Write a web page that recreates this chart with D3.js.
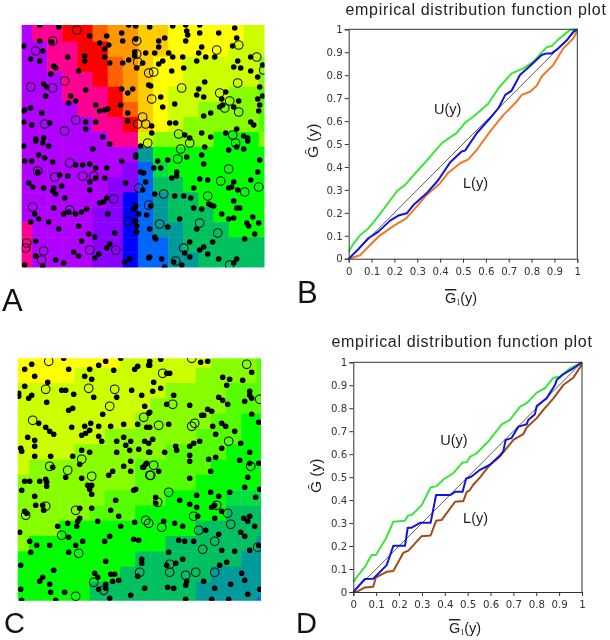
<!DOCTYPE html>
<html>
<head>
<meta charset="utf-8">
<script src="https://cdn.jsdelivr.net/npm/d3@7"></script>
<style>
  html, body { margin: 0; padding: 0; background: #fff; }
  svg { display: block; filter: blur(0.35px); }
  text { font-family: "Liberation Sans", Arial, sans-serif; fill: #222; }
  .axis text { font-family: "DejaVu Sans", sans-serif; font-size: 10.2px; fill: #333; }
</style>
</head>
<body>
<div id="chart"></div>
<script>
// colour levels used by the two grid maps
const levelKeys = ["p", "P", "v", "B", "b", "t", "s", "h", "G", "n", "m", "l", "y", "g", "a", "o", "r", "q"];
const levelColors = ["#b000ff", "#8a00ff", "#6000ff", "#0000ff", "#0066ff", "#009a9a", "#00c060", "#00e040",
    "#00ff00", "#55ff00", "#88ff00", "#ccff00", "#ffff00", "#ffcc00", "#ff9900", "#ff6000", "#ff0000", "#ff0090"];

const gridA = [
    "pqqrroaaggyyyyyll",
    "pqqrroaaggyyyyyll",
    "ppqqrraaggyyyylll",
    "ppqqrroagyylllllm",
    "pppqqroagyylllllm",
    "pppqqqragyllllmmn",
    "ppppqqrogyllmmmmn",
    "pppppqqrgylmmmmmn",
    "ppppppqqlmmmmGGGm",
    "pppppppptGGGGGGGG",
    "pppppppPbhGGGGGGG",
    "ppppppPPbssGGGGGG",
    "ppppppPBbtssGGGGG",
    "pppppPPBbtsssGGGG",
    "qppppPPBbttsssGGG",
    "qppppPPBbbtssssss",
    "qppppPPBbbttsssss"
];

const gridC = [
    "yyyyyyyllllllmmmn",
    "yyyyllllllllmmmmn",
    "llllllllllmmmmnnn",
    "lllllllllmmmmmnnn",
    "llllllllmmmmmnnGG",
    "llllllmmmmmmnnnGG",
    "llllmmmmmmnnnnGGG",
    "lmmmmmmmnnnnnGGGG",
    "mmmmmmmmnnnnGGGGG",
    "mmmmmmnnnnGGGGhhh",
    "mmmmmnnnGGGGGGsss",
    "mmmGGGGGGGGGsssss",
    "mGGGGGGGGGsssssst",
    "GGGGGGGGssssssstt",
    "GGGGGGGsssssstttt",
    "GGGGGsssssssttttt",
    "GGGGGsssssssttttb"
];

const dotsA = [[18,0],[37,2],[2,21],[18,16],[21,26],[30,17],[68,11],[85,11],[100,8],[107,0],[114,1],[78,18],[87,20],[83,24],[101,16],
    [46,32],[9,34],[18,36],[63,31],[63,36],[83,32],[88,38],[101,38],[107,35],[114,14],[113,27],[113,31],[124,28],[121,38],[115,43],
    [32,41],[34,43],[29,49],[57,46],[22,59],[25,62],[64,65],[100,64],[111,64],[106,68],[24,71],[49,71],[54,76],[47,78],[74,80],
    [78,86],[83,85],[86,84],[99,80],[106,88],[9,83],[3,85],[2,86],[20,88],[2,97],[10,100],[28,98],[64,97],[74,97],[106,96],[64,104],
    [14,114],[22,113],[81,112],[127,60],
    [128,2],[151,1],[164,0],[178,0],[165,6],[166,10],[178,8],[197,8],[213,3],[143,13],[137,16],[137,22],[164,16],[180,22],[215,13],
    [211,21],[177,28],[147,28],[151,32],[133,28],[161,32],[184,32],[193,32],[175,36],[141,36],[137,39],[150,46],[162,43],[212,42],
    [216,36],[219,43],[229,32],[229,46],[236,52],[241,40],[183,57],[129,61],[177,64],[175,70],[182,72],[204,67],[200,74],[238,62],
    [236,74],[241,71],[139,72],[141,82],[153,79],[238,80],[237,86],[217,76],[212,82],[198,82],[201,80],[189,88],[182,91],[229,97],
    [232,100],[148,98],[154,98],[130,101],[130,108],[163,110],[168,113],[180,108],[189,112],[204,108],[215,104],[222,111],[226,113],
    [2,121],[14,116],[21,118],[27,121],[88,119],[71,124],[119,121],[17,130],[23,133],[3,136],[10,136],[31,137],[54,140],[61,140],
    [68,139],[74,143],[85,143],[100,136],[114,130],[114,132],[16,147],[38,150],[46,151],[74,153],[83,153],[68,157],[119,147],[122,148],
    [124,157],[104,158],[7,158],[11,162],[22,163],[40,161],[32,163],[31,166],[34,169],[68,165],[121,165],[43,173],[78,178],[82,177],
    [85,173],[32,183],[114,181],[112,184],[13,189],[42,189],[47,187],[54,189],[60,187],[65,184],[86,189],[117,189],[125,190],[9,197],
    [17,194],[27,197],[37,204],[57,201],[114,196],[115,201],[115,207],[93,208],[67,209],[73,212],[14,216],[60,216],[88,219],[85,223],
    [52,227],[57,231],[77,229],[73,233],[14,231],[34,235],[42,238],[108,234],[103,237],[127,233],[3,240],[21,241],
    [183,122],[207,125],[215,122],[222,124],[226,116],[180,130],[165,132],[146,135],[136,136],[238,135],[182,139],[132,143],[139,143],
    [236,147],[155,147],[155,151],[150,153],[178,154],[186,155],[212,157],[229,155],[172,163],[210,162],[207,163],[216,165],[133,169],
    [153,171],[162,171],[169,173],[212,176],[129,181],[172,183],[180,184],[187,179],[189,180],[192,181],[215,183],[218,183],[200,189],
    [231,192],[207,194],[212,193],[158,194],[225,198],[227,201],[237,198],[146,202],[128,204],[175,204],[233,209],[223,214],[133,212],
    [134,214],[191,217],[168,217],[182,222],[178,225],[163,228],[168,232],[186,229],[197,234],[215,234],[128,232],[140,234],[152,237],
    [160,240],[212,238],[143,242]];

const ringsA = [[55,5],[31,16],[14,26],[115,16],[115,29],[116,37],[43,56],[9,62],[31,63],[127,48],[121,92],[116,99],[124,99],[54,95],
    [23,99],[43,106],[195,25],[217,20],[235,32],[242,45],[132,47],[216,58],[160,63],[130,74],[198,68],[208,76],[203,83],[217,87],
    [157,109],[211,110],[16,146],[48,138],[33,152],[61,151],[72,151],[117,163],[92,174],[127,180],[11,182],[48,185],[106,196],[5,218],
    [4,223],[22,226],[20,235],[68,225],[94,225],[126,118],[168,118],[159,124],[156,134],[214,118],[199,156],[207,144],[142,169],
    [186,171],[223,167],[237,162],[178,198],[196,208],[138,199],[162,223],[154,236],[208,240]];

const dotsC = [[7,11],[14,6],[17,18],[51,11],[46,0],[72,11],[81,7],[88,3],[96,12],[103,0],[67,18],[74,21],[117,11],[120,8],[131,7],
    [30,24],[7,28],[1,35],[1,38],[44,32],[48,32],[14,37],[11,40],[56,36],[76,39],[99,39],[114,32],[124,37],[29,44],[127,48],[51,52],
    [55,50],[85,56],[131,55],[21,65],[28,69],[32,73],[36,76],[54,69],[67,68],[73,65],[81,68],[93,68],[106,66],[120,66],[129,69],[72,72],
    [68,75],[64,77],[10,79],[17,82],[17,88],[81,78],[84,83],[106,79],[99,83],[113,83],[108,87],[112,92],[121,91],[127,83],[131,85],[3,90],
    [4,93],[99,94],[131,94],[64,92],[72,94],[17,98],[33,98],[55,98],[62,106],[113,103],[106,108],[129,105],[126,109],[35,109],[113,113],
    [95,113],[91,117],[7,123],[12,123],[22,123],[28,121],[29,124],[48,119],[64,120],[74,127],
    [143,1],[132,3],[132,7],[183,4],[190,3],[152,15],[149,15],[234,14],[205,19],[212,21],[225,22],[209,27],[136,24],[143,30],[135,33],
    [156,37],[232,33],[232,37],[234,40],[227,43],[201,39],[205,42],[210,46],[149,46],[172,47],[132,54],[190,51],[194,53],[234,56],[184,57],
    [186,57],[241,64],[151,66],[132,69],[195,68],[204,65],[208,68],[217,73],[198,76],[135,81],[182,83],[176,85],[172,88],[223,85],[204,90],
    [158,88],[159,92],[147,94],[132,94],[232,94],[172,97],[172,103],[198,99],[191,101],[222,102],[232,105],[241,105],[128,106],[125,109],
    [141,113],[193,113],[172,120],[230,119],
    [29,128],[4,132],[17,138],[70,127],[72,131],[74,136],[116,132],[118,131],[98,142],[18,147],[25,147],[26,152],[62,150],[74,150],[93,152],
    [101,158],[7,153],[9,155],[62,160],[60,163],[59,168],[50,165],[40,168],[80,163],[103,168],[117,164],[2,174],[51,179],[92,178],[87,183],
    [116,181],[121,182],[65,183],[58,187],[12,183],[19,187],[32,187],[13,194],[51,194],[88,203],[124,201],[124,205],[3,207],[36,212],[77,215],
    [80,219],[93,216],[97,216],[25,219],[22,223],[32,226],[95,223],[101,222],[120,218],[88,226],[81,231],[88,230],[3,231],[127,230],[33,234],
    [47,234],[113,237],[92,240],[4,242],[38,242],
    [227,129],[212,134],[193,134],[201,138],[179,137],[138,139],[138,145],[162,142],[172,146],[179,149],[238,139],[242,131],[197,147],[194,149],
    [204,153],[180,158],[197,160],[232,158],[226,160],[230,163],[146,163],[157,165],[165,168],[237,168],[188,172],[201,176],[223,174],[227,178],
    [161,182],[167,183],[176,183],[151,194],[204,192],[217,193],[232,192],[241,187],[165,201],[158,205],[149,207],[209,204],[202,207],[224,215],
    [169,223],[168,227],[227,222],[186,223],[213,226],[150,229],[156,230],[242,231],[197,230],[168,241],[194,241],[211,241],[230,236]];

const ringsC = [[31,3],[28,31],[71,30],[97,31],[92,48],[15,62],[126,59],[64,101],[32,108],[50,112],[74,118],[132,117],
    [174,0],[145,15],[229,6],[155,46],[242,41],[141,67],[174,68],[177,65],[211,83],[233,108],[136,107],[133,117],
    [28,148],[8,157],[58,152],[44,177],[61,195],[76,224],[86,232],[58,238],[122,214],[128,162],[131,165],
    [151,134],[140,144],[199,147],[176,158],[210,155],[213,166],[144,169],[181,172],[197,183],[185,191],[240,189],[152,206],[152,214],
    [168,217],[178,214],[197,214]];

const ticks = [0, 0.1, 0.2, 0.3, 0.4, 0.5, 0.6, 0.7, 0.8, 0.9, 1];
const diagonal = [[0, 0], [1, 1]];

const upperB = [[0,.03],[.02,.064],[.05,.103],[.086,.132],[.122,.176],[.166,.234],[.213,.297],[.246,.321],[.297,.379],[.341,.427],[.382,.474],
    [.407,.503],[.443,.529],[.472,.547],[.509,.593],[.545,.619],[.611,.677],[.655,.743],[.713,.808],[.764,.83],[.808,.859],[.866,.922],
    [.888,.927],[.917,.956],[.968,.997],[1,1]];
const lowerB = [[0,0],[.05,.015],[.086,.052],[.13,.096],[.195,.142],[.251,.176],[.297,.227],[.341,.278],[.399,.328],[.436,.375],[.487,.416],
    [.523,.433],[.56,.474],[.618,.554],[.676,.626],[.735,.685],[.757,.714],[.793,.728],[.822,.753],[.844,.794],[.895,.844],[.939,.917],
    [.968,.946],[.983,.961],[1,.994]];
const middleB = [[0,0],[.042,.041],[.086,.089],[.13,.118],[.181,.166],[.217,.188],[.254,.198],[.283,.234],[.341,.285],[.392,.343],[.443,.419],
    [.494,.467],[.509,.471],[.56,.547],[.618,.612],[.655,.656],[.685,.714],[.713,.733],[.749,.801],[.793,.84],[.844,.888],[.866,.895],
    [.888,.895],[.917,.917],[.953,.951],[.983,.99],[1,1]];

const upperD = [[0,.045],[.051,.11],[.08,.161],[.099,.161],[.143,.233],[.175,.306],[.226,.31],[.238,.332],[.255,.335],[.299,.378],[.338,.455],
    [.364,.461],[.394,.49],[.437,.517],[.478,.564],[.496,.565],[.51,.588],[.539,.604],[.59,.655],[.649,.73],[.685,.749],[.729,.807],
    [.758,.822],[.802,.868],[.838,.887],[.875,.933],[.904,.938],[.948,.974],[1,1]];
const lowerD = [[0,0],[.015,.001],[.051,.02],[.087,.023],[.099,.064],[.146,.088],[.175,.091],[.219,.171],[.241,.18],[.299,.243],[.338,.246],
    [.362,.31],[.386,.313],[.445,.393],[.481,.396],[.496,.436],[.507,.441],[.525,.467],[.554,.499],[.598,.554],[.641,.59],[.671,.626],
    [.7,.662],[.743,.687],[.758,.716],[.802,.757],[.831,.793],[.875,.843],[.918,.901],[.962,.933],[1,.991]];
const middleD = [[0,0],[.051,.057],[.087,.058],[.146,.117],[.175,.201],[.226,.201],[.238,.28],[.255,.28],[.292,.301],[.338,.301],[.362,.422],
    [.423,.422],[.445,.436],[.478,.436],[.493,.493],[.517,.503],[.554,.532],[.598,.554],[.641,.594],[.656,.612],[.666,.662],[.692,.67],
    [.722,.72],[.758,.73],[.765,.749],[.794,.774],[.802,.81],[.845,.843],[.882,.901],[.889,.923],[.918,.948],[.962,.974],[1,1]];

const svg = d3.select("#chart").append("svg")
    .attr("width", 610)
    .attr("height", 640);

const level = d3.scaleOrdinal().domain(levelKeys).range(levelColors);

function drawMap(id, grid, dots, rings, box, cellBox) {
    svg.append("clipPath").attr("id", id)
        .append("rect")
        .attr("x", box.left).attr("y", box.top)
        .attr("width", box.right - box.left).attr("height", box.bottom - box.top);

    const g = svg.append("g").attr("clip-path", "url(#" + id + ")");

    const gx = d3.scaleLinear().domain([0, grid[0].length]).range([cellBox.left, cellBox.right]);
    const gy = d3.scaleLinear().domain([0, grid.length]).range([cellBox.top, cellBox.bottom]);

    grid.forEach(function (row, r) {
        g.selectAll(".row" + r)
            .data(row.split(""))
            .enter()
            .append("rect")
            .attr("x", (d, c) => gx(c))
            .attr("y", gy(r))
            .attr("width", gx(1) - gx(0) + 0.5)
            .attr("height", gy(1) - gy(0) + 0.5)
            .attr("fill", d => level(d));
    });

    const x = d3.scaleLinear().domain([0, 243]).range([box.left, box.left + 243]);
    const y = d3.scaleLinear().domain([0, 242]).range([box.top, box.top + 242]);

    g.selectAll(".dot")
        .data(dots)
        .enter()
        .append("circle")
        .attr("cx", d => x(d[0]))
        .attr("cy", d => y(d[1]))
        .attr("r", 2.8)
        .attr("fill", "#000");

    g.selectAll(".ring")
        .data(rings)
        .enter()
        .append("circle")
        .attr("cx", d => x(d[0]))
        .attr("cy", d => y(d[1]))
        .attr("r", 4.3)
        .attr("fill", "none")
        .attr("stroke", "#111")
        .attr("stroke-width", 1.1);
}

function drawPlot(box, series, titleX, titleY, notes, xLabel, yLabel) {
    const x = d3.scaleLinear().domain([0, 1]).range([box.left, box.right]);
    const y = d3.scaleLinear().domain([0, 1]).range([box.bottom, box.top]);
    const line = d3.line().x(d => x(d[0])).y(d => y(d[1]));

    svg.append("text")
        .attr("x", titleX)
        .attr("y", titleY)
        .style("font-size", "16px")
        .style("letter-spacing", "0.68px")
        .text("empirical distribution function plot");

    svg.append("path")
        .attr("d", line(diagonal))
        .attr("fill", "none")
        .attr("stroke", "#333")
        .attr("stroke-width", 0.8);

    series.forEach(function (s) {
        svg.append("path")
            .attr("d", line(s.values))
            .attr("fill", "none")
            .attr("stroke", s.color)
            .attr("stroke-width", 2)
            .attr("stroke-linejoin", "round");
    });

    // top and right edge of the frame
    svg.append("path")
        .attr("d", "M" + box.left + "," + box.top + "H" + box.right + "V" + box.bottom)
        .attr("fill", "none")
        .attr("stroke", "#333");

    svg.append("g")
        .attr("class", "axis")
        .attr("transform", "translate(0," + box.bottom + ")")
        .call(d3.axisBottom(x).tickValues(ticks).tickFormat(d => d).tickSize(4).tickPadding(5))
        .call(a => a.selectAll("path,line").attr("stroke", "#333"));

    svg.append("g")
        .attr("class", "axis")
        .attr("transform", "translate(" + box.left + ",0)")
        .call(d3.axisLeft(y).tickValues(ticks).tickFormat(d => d).tickSize(4).tickPadding(2))
        .call(a => a.selectAll("path,line").attr("stroke", "#333"));

    notes.forEach(function (n) {
        svg.append("text")
            .attr("x", x(n[1]))
            .attr("y", y(n[2]))
            .style("font-size", "14.5px")
            .text(n[0]);
    });

    const xl = svg.append("text")
        .attr("x", xLabel[0])
        .attr("y", xLabel[1])
        .style("font-size", "14.5px");
    xl.append("tspan").style("text-decoration", "overline").text("G");
    xl.append("tspan").attr("dy", 2).style("font-size", "8px").style("font-family", "Liberation Serif").text("1");
    xl.append("tspan").attr("dy", -2).text("(y)");

    svg.append("text")
        .attr("transform", "translate(" + yLabel[0] + "," + yLabel[1] + ") rotate(-90)")
        .style("font-size", "15.5px")
        .text("\u011C (y)");
}

drawMap("clipA", gridA, dotsA, ringsA,
    {left: 21.7, right: 264.5, top: 25, bottom: 267.5},
    {left: 16.9, right: 274.1, top: 11.5, bottom: 267.4});
drawMap("clipC", gridC, dotsC, ringsC,
    {left: 17.7, right: 261, top: 358.3, bottom: 600.7},
    {left: 13.9, right: 271.5, top: 352.4, bottom: 612.5});

drawPlot({left: 348.7, right: 577.3, top: 29.3, bottom: 258.7},
    [{values: upperB, color: "#3ce63c"}, {values: lowerB, color: "#f0782a"}, {values: middleB, color: "#1414d8"}],
    345.5, 15,
    [["U(y)", 0.373, 0.63], ["L(y)", 0.50, 0.31]],
    [445, 303], [318, 158]);

drawPlot({left: 353.3, right: 582, top: 362.3, bottom: 592},
    [{values: upperD, color: "#3ce63c"}, {values: lowerD, color: "#a04c18"}, {values: middleD, color: "#1414d8"}],
    331.5, 347,
    [["U(y)", 0.38, 0.64], ["L(y)", 0.48, 0.30]],
    [449, 633], [321, 493]);

const panelLabels = ["A", "B", "C", "D"];
const panelX = [2, 297, 4, 296];
const panelY = [311, 303, 633, 633];
const panelSize = [31, 31, 29, 29];
svg.selectAll(".panel")
    .data(panelLabels)
    .enter()
    .append("text")
    .attr("x", (d, i) => panelX[i])
    .attr("y", (d, i) => panelY[i])
    .style("font-size", (d, i) => panelSize[i] + "px")
    .style("fill", "#111")
    .text(d => d);
</script>
</body>
</html>
